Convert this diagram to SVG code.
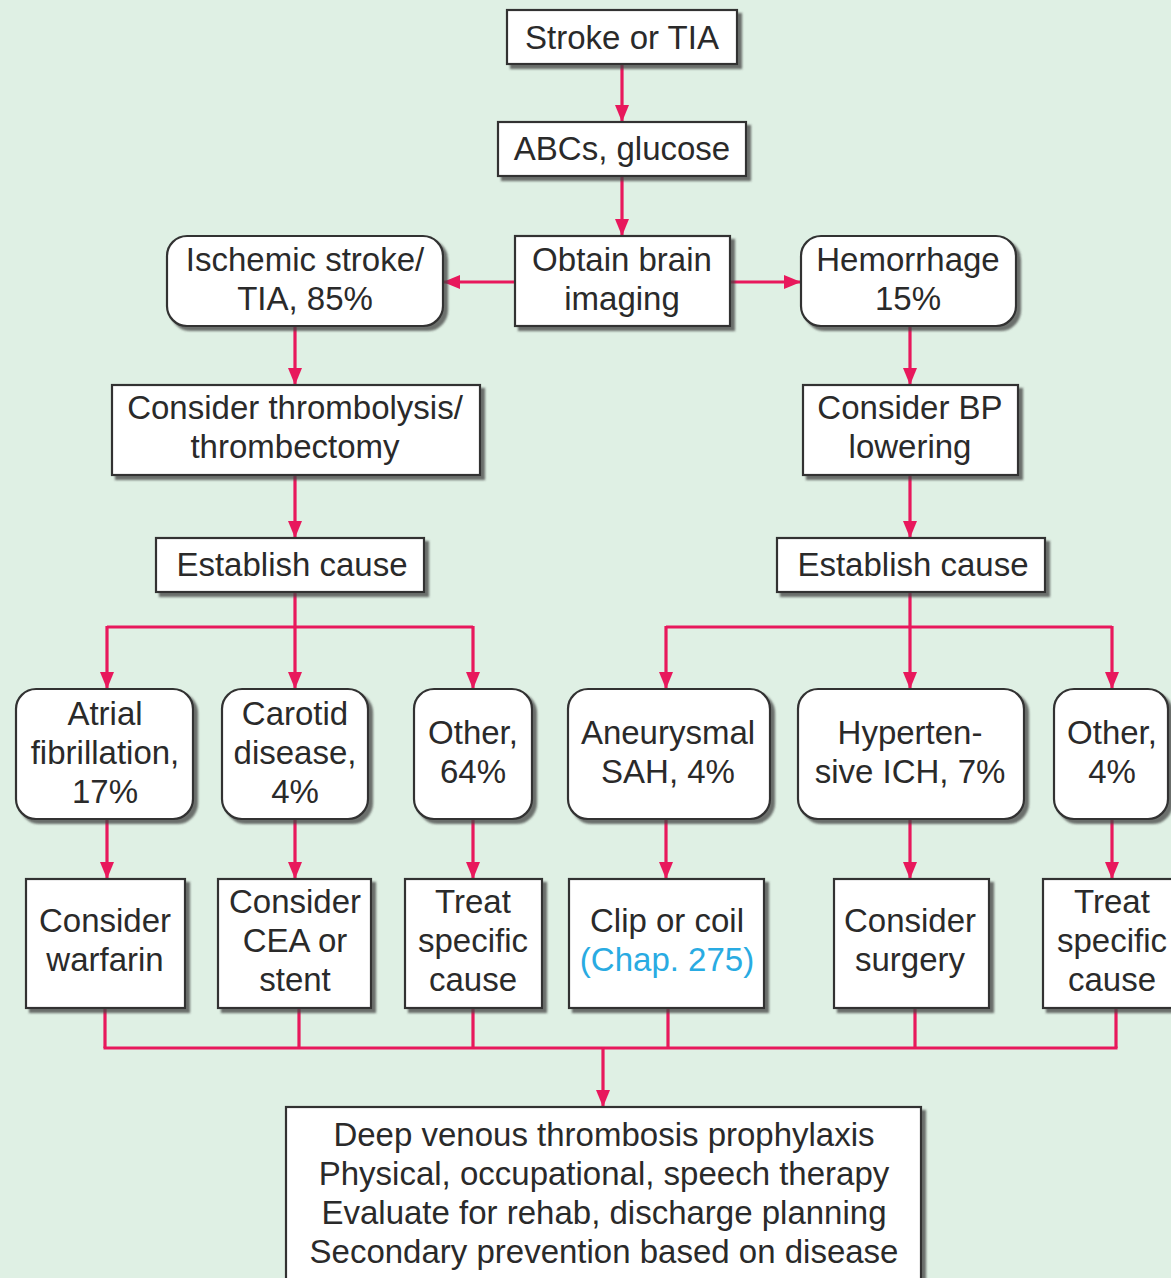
<svg xmlns="http://www.w3.org/2000/svg" width="1171" height="1278" viewBox="0 0 1171 1278">
<defs>
<filter id="sh" x="-10%" y="-10%" width="130%" height="130%">
<feDropShadow dx="4" dy="4" stdDeviation="1.2" flood-color="#444" flood-opacity="0.75"/>
</filter>
<marker id="ah" markerUnits="userSpaceOnUse" markerWidth="18" markerHeight="16" refX="17" refY="8" orient="auto">
<path d="M0,1 L17,8 L0,15 z" fill="#e8185c"/>
</marker>
<style>
.box{fill:#fff;stroke:#333;stroke-width:2.2;filter:url(#sh)}
.t{font-family:"Liberation Sans",Arial,sans-serif;font-size:33px;fill:#2a2a2a;text-anchor:middle}
.lnk{fill:#29abe2}
.c{fill:none;stroke:#e8185c;stroke-width:3.2}
.a{marker-end:url(#ah)}
</style>
</defs>
<rect width="1171" height="1278" fill="#dff0e4"/>

<g id="connectors">
<line class="c a" x1="622" y1="64" x2="622" y2="122"/>
<line class="c a" x1="622" y1="176" x2="622" y2="236"/>
<line class="c a" x1="515" y1="282" x2="443" y2="282"/>
<line class="c a" x1="730" y1="282" x2="801" y2="282"/>
<line class="c a" x1="295" y1="326" x2="295" y2="385"/>
<line class="c a" x1="910" y1="326" x2="910" y2="385"/>
<line class="c a" x1="295" y1="475" x2="295" y2="538"/>
<line class="c a" x1="910" y1="475" x2="910" y2="538"/>
<polyline class="c" points="295,592 295,627"/>
<polyline class="c" points="107,627 473,627"/>
<line class="c a" x1="107" y1="626" x2="107" y2="689"/>
<line class="c a" x1="295" y1="626" x2="295" y2="689"/>
<line class="c a" x1="473" y1="626" x2="473" y2="689"/>
<polyline class="c" points="910,592 910,627"/>
<polyline class="c" points="666,627 1112,627"/>
<line class="c a" x1="666" y1="626" x2="666" y2="689"/>
<line class="c a" x1="910" y1="626" x2="910" y2="689"/>
<line class="c a" x1="1112" y1="626" x2="1112" y2="689"/>
<line class="c a" x1="107" y1="819" x2="107" y2="879"/>
<line class="c a" x1="295" y1="819" x2="295" y2="879"/>
<line class="c a" x1="473" y1="819" x2="473" y2="879"/>
<line class="c a" x1="666" y1="819" x2="666" y2="879"/>
<line class="c a" x1="910" y1="819" x2="910" y2="879"/>
<line class="c a" x1="1112" y1="819" x2="1112" y2="879"/>
<line class="c" x1="105" y1="1008" x2="105" y2="1048"/>
<line class="c" x1="299" y1="1008" x2="299" y2="1048"/>
<line class="c" x1="473" y1="1008" x2="473" y2="1048"/>
<line class="c" x1="668" y1="1008" x2="668" y2="1048"/>
<line class="c" x1="915" y1="1008" x2="915" y2="1048"/>
<line class="c" x1="1116" y1="1008" x2="1116" y2="1048"/>
<line class="c" x1="103.5" y1="1048" x2="1117.5" y2="1048"/>
<line class="c a" x1="603" y1="1047" x2="603" y2="1107"/>
</g>

<g id="stroke-tia"><rect class="box" x="507" y="10" width="230" height="54"/><text class="t" x="622" y="49">Stroke or TIA</text></g>
<g id="abcs"><rect class="box" x="498" y="122" width="248" height="54"/><text class="t" x="622" y="160">ABCs, glucose</text></g>
<g id="imaging"><rect class="box" x="515" y="236" width="215" height="90"/><text class="t" x="622" y="271">Obtain brain</text><text class="t" x="622" y="310">imaging</text></g>
<g id="ischemic"><rect class="box" x="167" y="236" width="276" height="90" rx="20"/><text class="t" x="305" y="271">Ischemic stroke/</text><text class="t" x="305" y="310">TIA, 85%</text></g>
<g id="hemorrhage"><rect class="box" x="801" y="236" width="215" height="90" rx="20"/><text class="t" x="908" y="271">Hemorrhage</text><text class="t" x="908" y="310">15%</text></g>
<g id="thrombolysis"><rect class="box" x="112" y="385" width="368" height="90"/><text class="t" x="295" y="419">Consider thrombolysis/</text><text class="t" x="295" y="458">thrombectomy</text></g>
<g id="bp"><rect class="box" x="803" y="385" width="215" height="90"/><text class="t" x="910" y="419">Consider BP</text><text class="t" x="910" y="458">lowering</text></g>
<g id="cause-left"><rect class="box" x="156" y="538" width="268" height="54"/><text class="t" x="292" y="576">Establish cause</text></g>
<g id="cause-right"><rect class="box" x="777" y="538" width="268" height="54"/><text class="t" x="913" y="576">Establish cause</text></g>

<g id="afib"><rect class="box" x="16" y="689" width="177" height="130" rx="20"/><text class="t" x="105" y="725">Atrial</text><text class="t" x="105" y="764">fibrillation,</text><text class="t" x="105" y="803">17%</text></g>
<g id="carotid"><rect class="box" x="222" y="689" width="146" height="130" rx="20"/><text class="t" x="295" y="725">Carotid</text><text class="t" x="295" y="764">disease,</text><text class="t" x="295" y="803">4%</text></g>
<g id="other64"><rect class="box" x="414" y="689" width="118" height="130" rx="20"/><text class="t" x="473" y="744">Other,</text><text class="t" x="473" y="783">64%</text></g>
<g id="sah"><rect class="box" x="568" y="689" width="202" height="130" rx="20"/><text class="t" x="668" y="744">Aneurysmal</text><text class="t" x="668" y="783">SAH, 4%</text></g>
<g id="ich"><rect class="box" x="798" y="689" width="226" height="130" rx="20"/><text class="t" x="910" y="744">Hyperten-</text><text class="t" x="910" y="783">sive ICH, 7%</text></g>
<g id="other4"><rect class="box" x="1054" y="689" width="114" height="130" rx="20"/><text class="t" x="1112" y="744">Other,</text><text class="t" x="1112" y="783">4%</text></g>

<g id="warfarin"><rect class="box" x="26" y="879" width="159" height="129"/><text class="t" x="105" y="932">Consider</text><text class="t" x="105" y="971">warfarin</text></g>
<g id="cea"><rect class="box" x="218" y="879" width="153" height="129"/><text class="t" x="295" y="913">Consider</text><text class="t" x="295" y="952">CEA or</text><text class="t" x="295" y="991">stent</text></g>
<g id="treat-left"><rect class="box" x="405" y="879" width="137" height="129"/><text class="t" x="473" y="913">Treat</text><text class="t" x="473" y="952">specific</text><text class="t" x="473" y="991">cause</text></g>
<g id="clip"><rect class="box" x="569" y="879" width="195" height="129"/><text class="t" x="667" y="932">Clip or coil</text><text class="t lnk" x="667" y="971">(Chap. 275)</text></g>
<g id="surgery"><rect class="box" x="834" y="879" width="155" height="129"/><text class="t" x="910" y="932">Consider</text><text class="t" x="910" y="971">surgery</text></g>
<g id="treat-right"><rect class="box" x="1043" y="879" width="140" height="129"/><text class="t" x="1112" y="913">Treat</text><text class="t" x="1112" y="952">specific</text><text class="t" x="1112" y="991">cause</text></g>

<g id="final"><rect class="box" x="286" y="1107" width="635" height="190"/>
<text class="t" x="604" y="1146">Deep venous thrombosis prophylaxis</text>
<text class="t" x="604" y="1185">Physical, occupational, speech therapy</text>
<text class="t" x="604" y="1224">Evaluate for rehab, discharge planning</text>
<text class="t" x="604" y="1263">Secondary prevention based on disease</text></g>
</svg>
